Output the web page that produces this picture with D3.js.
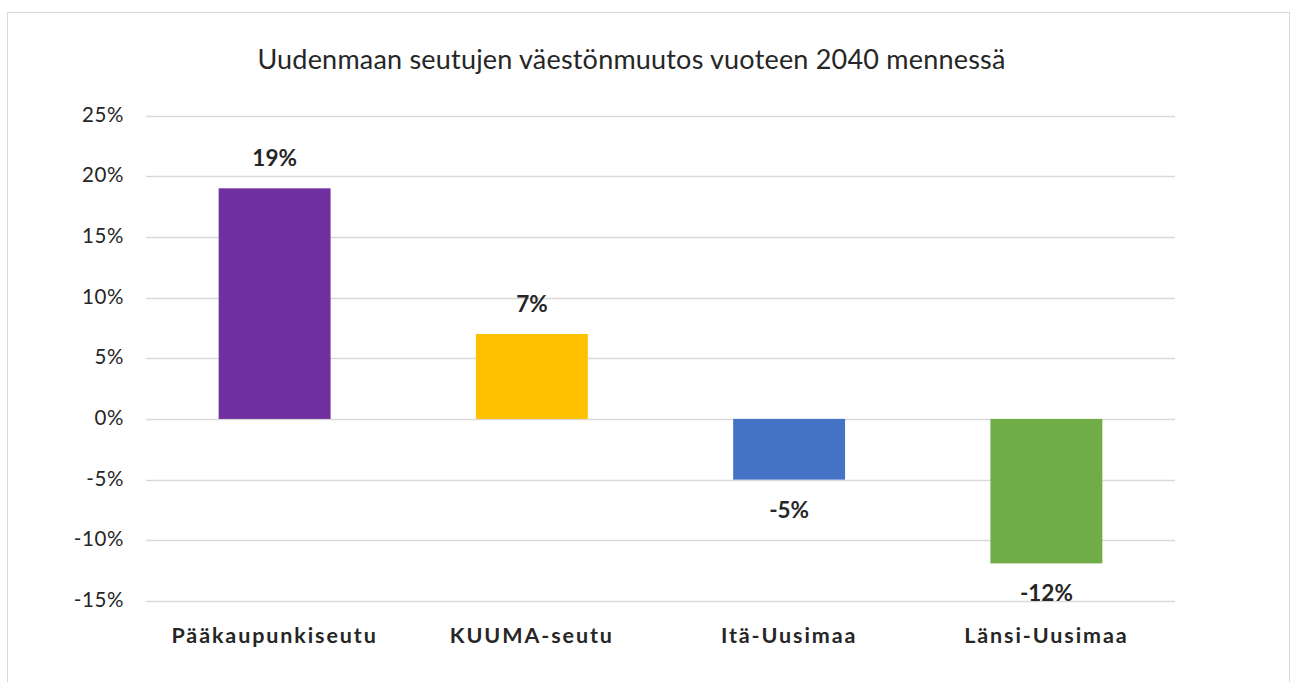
<!DOCTYPE html>
<html>
<head>
<meta charset="utf-8">
<script src="https://cdn.jsdelivr.net/npm/d3@7"></script>
<style>
  body { margin: 0; background: #fff; }
  text { font-family: Lato, "Open Sans", sans-serif; fill: #262626; }
</style>
</head>
<body>
<svg id="viz"></svg>
<script>
var width = 1294;
var height = 682;

// data
var regions = ["Pääkaupunkiseutu", "KUUMA-seutu", "Itä-Uusimaa", "Länsi-Uusimaa"];
var change = [0.19, 0.07, -0.05, -0.119];
var barColors = ["#7030A0", "#FFC000", "#4472C4", "#70AD47"];
var yTicks = [-0.15, -0.10, -0.05, 0, 0.05, 0.10, 0.15, 0.20, 0.25];
var title = "Uudenmaan seutujen väestönmuutos vuoteen 2040 mennessä";

// percent with a plain hyphen like the original
var pct = function(d) {
    return d3.format(".0%")(d).replace("\u2212", "-");
};

var svg = d3.select("#viz")
    .attr("width", width)
    .attr("height", height);

// chart frame
svg.append("rect")
    .attr("x", 7.5).attr("y", 12.5)
    .attr("width", 1282).attr("height", 690)
    .attr("fill", "#fff")
    .attr("stroke", "#d9d9d9");

var x = d3.scaleBand()
    .domain(regions)
    .range([146, 1175])
    .paddingInner(0.565)
    .paddingOuter(0.2825);

var y = d3.scaleLinear()
    .domain([-0.15, 0.25])
    .range([601, 115.5]);

// gridlines
svg.append("g")
    .selectAll("line")
    .data(yTicks)
    .enter().append("line")
    .attr("x1", 146).attr("x2", 1175)
    .attr("y1", function(d) { return Math.round(y(d)) + 0.5; })
    .attr("y2", function(d) { return Math.round(y(d)) + 0.5; })
    .attr("stroke", "#d9d9d9")
    .attr("stroke-width", 1.3);

// y axis labels
var yAxis = d3.axisLeft(y)
    .tickValues(yTicks)
    .tickFormat(pct)
    .tickSize(0)
    .tickPadding(0);

var yg = svg.append("g")
    .attr("transform", "translate(124,0)")
    .call(yAxis);
yg.select(".domain").remove();
yg.selectAll("text")
    .attr("font-size", 20.5)
    .attr("letter-spacing", 0.6)
    .attr("dy", "0.27em")
    .style("font-family", "Lato, sans-serif")
    .attr("fill", "#404040");

// bars
svg.append("g")
    .selectAll("rect")
    .data(regions)
    .enter().append("rect")
    .attr("x", function(d) { return x(d); })
    .attr("width", x.bandwidth())
    .attr("y", function(d, i) { return y(Math.max(0, change[i])); })
    .attr("height", function(d, i) { return Math.abs(y(change[i]) - y(0)); })
    .attr("fill", function(d, i) { return barColors[i]; });

// value labels
svg.append("g")
    .selectAll("text")
    .data(regions)
    .enter().append("text")
    .attr("x", function(d) { return x(d) + x.bandwidth() / 2; })
    .attr("y", function(d, i) {
        return change[i] >= 0 ? y(change[i]) - 22 : y(change[i]) + 38;
    })
    .attr("text-anchor", "middle")
    .attr("font-size", 22.5)
    .attr("font-weight", "bold")
    .text(function(d, i) { return pct(change[i]); });

// category labels
svg.append("g")
    .selectAll("text")
    .data(regions)
    .enter().append("text")
    .attr("x", function(d) { return x(d) + x.bandwidth() / 2; })
    .attr("y", 643)
    .attr("text-anchor", "middle")
    .attr("font-size", 21.5)
    .attr("font-weight", "bold")
    .attr("letter-spacing", 1.9)
    .text(function(d) { return d; });

// title
svg.append("text")
    .attr("x", 631.5)
    .attr("y", 68.5)
    .attr("text-anchor", "middle")
    .attr("font-size", 27)
    .attr("letter-spacing", 0.2)
    .attr("fill", "#404040")
    .text(title);
</script>
</body>
</html>
